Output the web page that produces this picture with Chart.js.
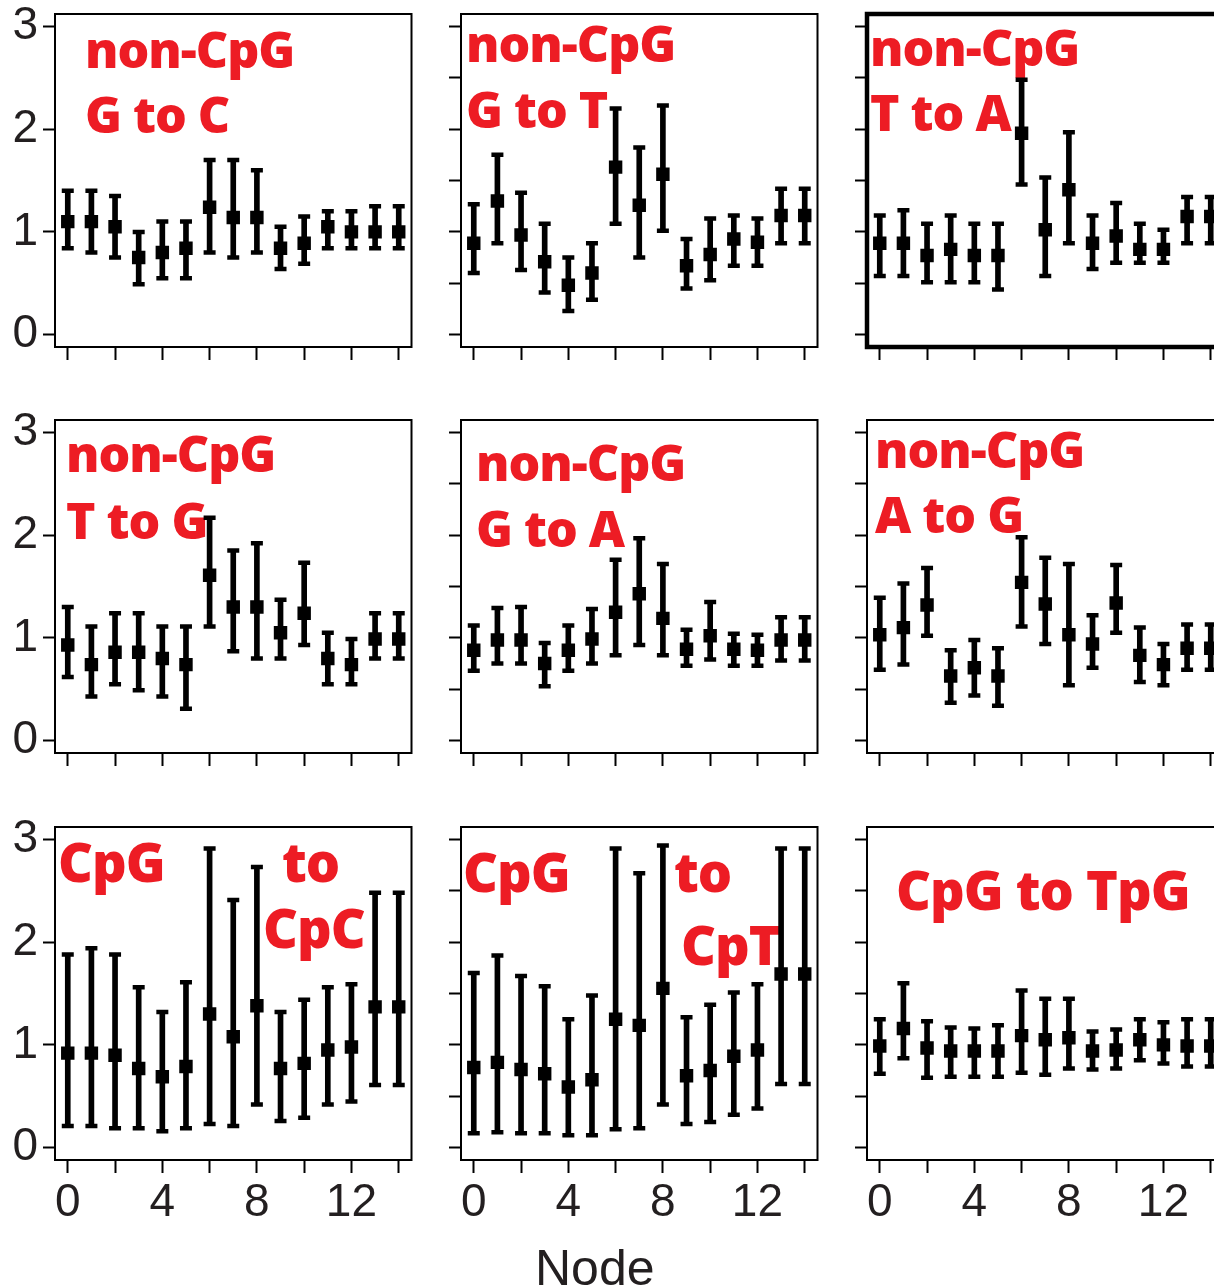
<!DOCTYPE html>
<html><head><meta charset="utf-8">
<script src="https://cdn.jsdelivr.net/npm/chart.js@4.4.1/dist/chart.umd.min.js"></script>
<style>
html,body{margin:0;padding:0;background:#fff;width:1214px;height:1288px;overflow:hidden;position:relative;}
canvas{position:absolute;}
#xtitle{position:absolute;left:535px;top:1243px;font:50px 'Liberation Sans',Arial,sans-serif;line-height:50px;color:#231F20;white-space:nowrap;}
</style></head><body>
<div id="xtitle">Node</div>
<script>
// ---------- data ----------
const nodes = [0,1,2,3,4,5,6,7,8,9,10,11,12,13,14];
const xTickValues = [0,2,4,6,8,10,12,14];
const xTickLabels = ['0','','4','','8','','12',''];
const yTickValues = [0,0.5,1,1.5,2,2.5,3];
const yTickLabels = ['0','','1','','2','','3'];

const gtocMean = [1.10,1.10,1.05,0.75,0.80,0.84,1.24,1.14,1.14,0.84,0.89,1.05,1.00,1.00,1.00];
const gtocLow  = [0.84,0.80,0.75,0.49,0.55,0.55,0.80,0.75,0.80,0.64,0.69,0.84,0.84,0.84,0.84];
const gtocHigh = [1.40,1.40,1.35,1.00,1.10,1.10,1.70,1.70,1.60,1.05,1.15,1.20,1.20,1.25,1.25];

const gtotMean = [0.89,1.30,0.97,0.71,0.48,0.60,1.63,1.26,1.56,0.67,0.78,0.93,0.90,1.16,1.16];
const gtotLow  = [0.60,0.89,0.63,0.41,0.23,0.34,1.08,0.75,1.01,0.45,0.53,0.67,0.67,0.89,0.89];
const gtotHigh = [1.27,1.75,1.38,1.08,0.75,0.89,2.20,1.82,2.23,0.93,1.13,1.16,1.13,1.42,1.42];

const ttoaMean = [0.89,0.89,0.77,0.83,0.77,0.77,1.96,1.02,1.41,0.89,0.96,0.83,0.83,1.15,1.15];
const ttoaLow  = [0.57,0.57,0.51,0.51,0.51,0.44,1.46,0.57,0.89,0.64,0.70,0.70,0.70,0.89,0.89];
const ttoaHigh = [1.16,1.21,1.08,1.16,1.08,1.08,2.48,1.53,1.97,1.16,1.28,1.08,1.02,1.34,1.34];

const ttogMean = [0.93,0.74,0.86,0.86,0.80,0.74,1.61,1.30,1.30,1.05,1.24,0.80,0.74,0.99,0.99];
const ttogLow  = [0.62,0.43,0.55,0.49,0.43,0.31,1.11,0.87,0.80,0.80,0.93,0.55,0.55,0.80,0.80];
const ttogHigh = [1.30,1.11,1.24,1.24,1.11,1.11,2.17,1.85,1.92,1.37,1.73,1.05,0.99,1.24,1.24];

const gtoaMean = [0.88,0.98,0.98,0.75,0.88,0.99,1.25,1.43,1.19,0.89,1.02,0.89,0.88,0.98,0.98];
const gtoaLow  = [0.68,0.75,0.75,0.53,0.68,0.75,0.83,0.93,0.83,0.73,0.79,0.73,0.73,0.78,0.78];
const gtoaHigh = [1.12,1.29,1.30,0.95,1.12,1.28,1.76,1.97,1.72,1.08,1.35,1.04,1.03,1.20,1.20];

const atogMean = [1.03,1.10,1.32,0.63,0.71,0.63,1.54,1.33,1.03,0.94,1.34,0.83,0.74,0.90,0.90];
const atogLow  = [0.69,0.74,1.02,0.37,0.44,0.34,1.11,0.94,0.54,0.71,1.05,0.57,0.54,0.69,0.69];
const atogHigh = [1.39,1.53,1.68,0.88,0.98,0.90,1.98,1.78,1.72,1.22,1.71,1.10,0.94,1.13,1.13];

const cpcMean = [0.92,0.92,0.90,0.77,0.69,0.79,1.30,1.08,1.38,0.77,0.82,0.95,0.98,1.37,1.37];
const cpcLow  = [0.21,0.21,0.19,0.19,0.16,0.19,0.23,0.21,0.42,0.26,0.29,0.42,0.45,0.61,0.61];
const cpcHigh = [1.88,1.94,1.88,1.56,1.32,1.61,2.91,2.41,2.73,1.32,1.44,1.56,1.59,2.48,2.48];

const cptMean = [0.78,0.83,0.76,0.72,0.59,0.66,1.25,1.19,1.55,0.70,0.75,0.89,0.95,1.69,1.69];
const cptLow  = [0.14,0.15,0.14,0.14,0.12,0.12,0.18,0.19,0.42,0.23,0.25,0.32,0.38,0.62,0.62];
const cptHigh = [1.70,1.87,1.67,1.57,1.25,1.48,2.91,2.67,2.94,1.27,1.39,1.51,1.59,2.91,2.91];

const tpgMean = [0.99,1.16,0.97,0.94,0.94,0.94,1.09,1.05,1.07,0.94,0.95,1.05,1.00,0.99,0.99];
const tpgLow  = [0.72,0.87,0.68,0.69,0.69,0.69,0.73,0.71,0.77,0.76,0.77,0.85,0.82,0.79,0.79];
const tpgHigh = [1.25,1.60,1.23,1.17,1.16,1.19,1.53,1.45,1.45,1.13,1.15,1.25,1.22,1.25,1.25];

const panelTexts = [
  ['non-CpG','G to C'], ['non-CpG','G to T'], ['non-CpG','T to A'],
  ['non-CpG','T to G'], ['non-CpG','G to A'], ['non-CpG','A to G'],
  ['CpG','to','CpC'], ['CpG','to','CpT'], ['CpG to TpG']
];
const panelSeries = [
  [gtocMean,gtocLow,gtocHigh],[gtotMean,gtotLow,gtotHigh],[ttoaMean,ttoaLow,ttoaHigh],
  [ttogMean,ttogLow,ttogHigh],[gtoaMean,gtoaLow,gtoaHigh],[atogMean,atogLow,atogHigh],
  [cpcMean,cpcLow,cpcHigh],[cptMean,cptLow,cptHigh],[tpgMean,tpgLow,tpgHigh]
];

// ---------- layout / style ----------
const colLeft = [55, 461, 867];
const rowTop = [14, 420, 827];
const boxW = 357, boxH = 333;
const padL = 60, padT = 30, padR = 10;
// label positions (page px: left x, baseline y, font size)
const textPos = [
  [[85,68,50],[85,133,50]],
  [[466,62,50],[466,128,50]],
  [[870,66,50],[870,131,50]],
  [[66,472,50],[66,539,50]],
  [[476,481,50],[476,547,50]],
  [[875,468,50],[875,533,50]],
  [[58,882,54],[282,882,54],[263,948,54]],
  [[463,892,54],[674,892,54],[681,965,54]],
  [[896,910,54]]
];
const RED = '#ED1C24';
const TXT = '#231F20';
const tickFont = {family:"'Liberation Sans', Arial, sans-serif", size:46};

const framePlugin = {
  id:'frameBox',
  beforeDatasetsDraw(chart, args, opts){
    const {left,top,right,bottom} = chart.chartArea;
    const ctx = chart.ctx;
    ctx.save();
    ctx.lineWidth = opts.width;
    ctx.strokeStyle = '#000';
    ctx.strokeRect(left, top, right-left, bottom-top);
    ctx.restore();
  }
};
const labelPlugin = {
  id:'panelLabels',
  beforeDatasetsDraw(chart, args, opts){
    const ctx = chart.ctx;
    ctx.save();
    ctx.fillStyle = RED;
    ctx.textAlign = 'left';
    ctx.textBaseline = 'alphabetic';
    if ('letterSpacing' in ctx) ctx.letterSpacing = '-1px';
    opts.items.forEach(it => {
      ctx.font = `800 ${it.size}px 'Open Sans', 'Noto Sans', sans-serif`;
      ctx.fillText(it.text, it.x - opts.offX, it.y - opts.offY);
    });
    ctx.restore();
  }
};

panelSeries.forEach((ser, idx) => {
  const col = idx % 3, row = Math.floor(idx / 3);
  const bottomRow = row === 2;
  const xH = bottomRow ? 72 : 16;
  const cw = boxW + padL + padR, ch = boxH + padT + xH;
  const left = colLeft[col] - padL, top = rowTop[row] - padT;
  const cv = document.createElement('canvas');
  cv.width = cw; cv.height = ch;
  cv.style.left = left + 'px'; cv.style.top = top + 'px';
  cv.style.width = cw + 'px'; cv.style.height = ch + 'px';
  document.body.appendChild(cv);
  const [mean, low, high] = ser;
  const thick = idx === 2;
  const items = panelTexts[idx].map((t, k) => ({text:t, x:textPos[idx][k][0], y:textPos[idx][k][1], size:textPos[idx][k][2]}));

  new Chart(cv, {
    type:'scatter',
    data:{
      datasets:[
        {type:'bar', data:nodes.map((n,i)=>({x:n, y:[low[i], high[i]]})), backgroundColor:'#000', borderWidth:0, barThickness:5, order:3},
        {type:'scatter', data:nodes.flatMap((n,i)=>[{x:n,y:low[i]},{x:n,y:high[i]}]), pointStyle:'line', pointRadius:6, pointBorderWidth:4.5, pointBorderColor:'#000', pointBackgroundColor:'#000', order:2},
        {type:'scatter', data:nodes.map((n,i)=>({x:n,y:mean[i]})), pointStyle:'rect', pointRadius:9.5, pointBackgroundColor:'#000', pointBorderWidth:0, order:1}
      ]
    },
    options:{
      responsive:false, maintainAspectRatio:false, animation:false, events:[],
      layout:{padding:{left:0, top:padT, right:padR, bottom:0}},
      plugins:{
        legend:{display:false}, tooltip:{enabled:false},
        frameBox:{width: thick ? 4.5 : 2},
        panelLabels:{items, offX:left, offY:top}
      },
      scales:{
        x:{
          type:'linear', min:-0.54, max:14.54, offset:false,
          afterBuildTicks:(s)=>{ s.ticks = xTickValues.map(v=>({value:v})); },
          afterFit:(s)=>{ s.height = xH; s.paddingLeft=0; s.paddingRight=0; s.paddingTop=0; s.paddingBottom=0; },
          border:{display:false},
          grid:{display:true, drawOnChartArea:false, drawTicks:true, tickLength:13, tickWidth:2, tickColor:'#000', offset:false},
          ticks:{display:bottomRow, autoSkip:false, maxRotation:0, minRotation:0, padding:3, color:TXT, font:tickFont,
            callback:(v)=>{ const k = xTickValues.indexOf(v); return k >= 0 ? xTickLabels[k] : ''; }}
        },
        y:{
          type:'linear', min:-0.12, max:3.12,
          afterBuildTicks:(s)=>{ s.ticks = yTickValues.map(v=>({value:v})); },
          afterFit:(s)=>{ s.width = padL; s.paddingLeft=0; s.paddingRight=0; s.paddingTop=0; s.paddingBottom=0; },
          border:{display:false},
          grid:{display:true, drawOnChartArea:false, drawTicks:true, tickLength:12, tickWidth:2, tickColor:'#000'},
          ticks:{display:col===0, padding:5, color:TXT, font:tickFont,
            callback:(v)=>{ const k = yTickValues.indexOf(v); return k >= 0 ? yTickLabels[k] : ''; }}
        }
      }
    },
    plugins:[framePlugin, labelPlugin]
  });
});
</script>
</body></html>
